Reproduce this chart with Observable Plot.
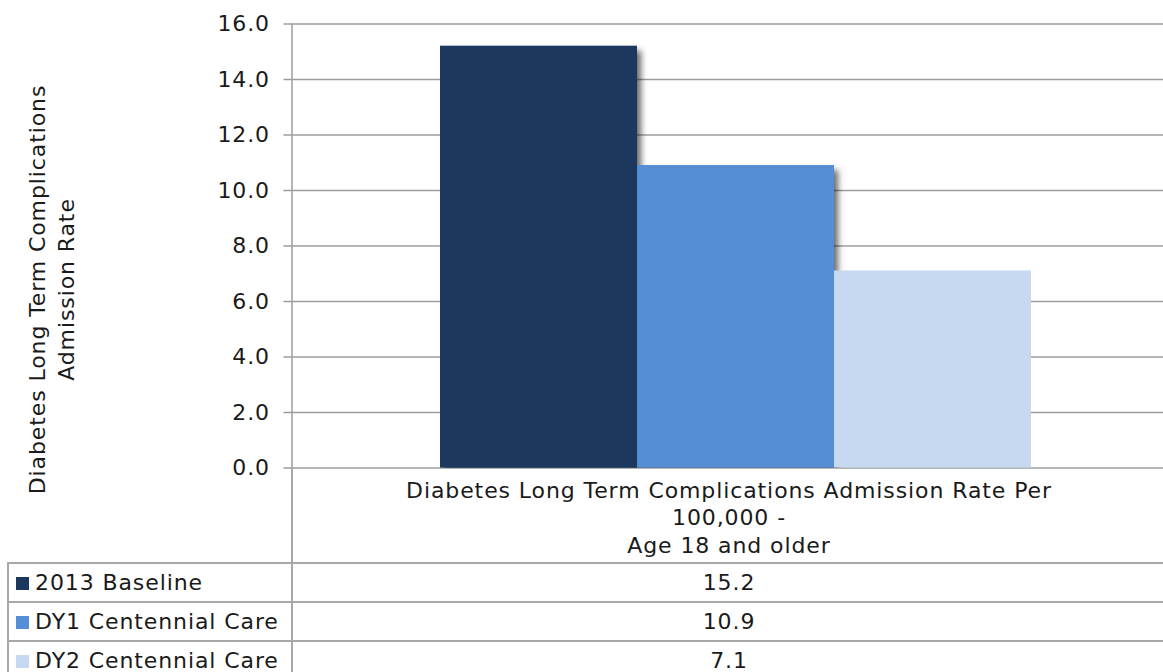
<!DOCTYPE html>
<html><head><meta charset="utf-8">
<script src="https://cdn.jsdelivr.net/npm/d3@7"></script>
<script src="https://cdn.jsdelivr.net/npm/@observablehq/plot@0.6"></script>
<style>
html,body{margin:0;padding:0;background:#fff;overflow:hidden;}
body{width:1163px;height:672px;position:relative;font-family:"DejaVu Sans",Verdana,sans-serif;color:#1a1a1a;}
#chart{position:absolute;left:0;top:0;}
#tbl{position:absolute;left:7px;top:466.5px;border-collapse:collapse;table-layout:fixed;width:1157px;font-size:22px;letter-spacing:0.9px;}
#tbl td{padding:0;border:2px solid #a8a8a8;}
#tbl tr.hdr td{border:none;}
#tbl tr.hdr td.cat{border-left:2px solid #a8a8a8;border-bottom:2px solid #a8a8a8;height:96px;vertical-align:top;text-align:center;padding-top:10px;line-height:27.5px;box-sizing:border-box;}
#tbl tr.hdr td.corner{border-bottom:2px solid #a8a8a8;}
#tbl td.lab{height:37px;white-space:nowrap;overflow:hidden;}
#tbl td.val{text-align:center;border-right:none;}
.sw{display:inline-block;width:13px;height:13px;margin:0 6px 0 7px;vertical-align:0px;}
</style></head>
<body><div id="chart"></div><table id="tbl"><colgroup><col style="width:284px"><col style="width:873px"></colgroup></table>
<script>
const series = ["2013 Baseline", "DY1 Centennial Care", "DY2 Centennial Care"];
const values = [15.2, 10.9, 7.1];
const colors = ["#1a385e", "#558ed5", "#c6d9f1"];
const categoryLines = ["Diabetes Long Term Complications Admission Rate Per", "100,000 -", "Age 18 and older"];
const yTicks = [0, 2, 4, 6, 8, 10, 12, 14, 16];
const yTitleLines = ["Diabetes Long Term Complications", "Admission Rate"];

const data = series.map((s, i) => ({series: s, value: values[i]}));
const gray = "#9c9c9c";

const chart = Plot.plot({
  width: 1163, height: 480,
  marginLeft: 291.5, marginRight: 0, marginTop: 23.5, marginBottom: 12.5,
  style: {fontFamily: "DejaVu Sans", fontSize: "22px", color: "#1a1a1a", background: "transparent", overflow: "visible", letterSpacing: "0.9px"},
  x: {domain: series, paddingInner: 0, paddingOuter: 0.706, align: 0.53, axis: null},
  y: {domain: [0, 16], axis: null},
  color: {domain: series, range: colors},
  marks: [
    Plot.gridY(yTicks, {stroke: gray, strokeOpacity: 1, strokeWidth: 1.5}),
    Plot.axisY(yTicks, {tickSize: 8, tickPadding: 14, tickFormat: d => d.toFixed(1), stroke: gray, strokeWidth: 1.5, fill: "#1a1a1a", label: null, fontSize: 22}),
    Plot.frame({anchor: "left", stroke: gray, strokeWidth: 1.5}),
    Plot.barY(data, {x: "series", y: "value", fill: "series", insetLeft: 0, insetRight: 0}),
    Plot.text([yTitleLines.join("\n")], {frameAnchor: "left", rotate: -90, dx: -241.5, dy: 43.5, lineHeight: 1.3, textAnchor: "middle", lineAnchor: "middle", fontSize: 22, fill: "#1a1a1a"})
  ]
});
document.getElementById("chart").appendChild(chart);

// drop shadow (Excel style) on the bars
const svg = d3.select(chart);
const defs = svg.insert("defs", ":first-child");
const f = defs.append("filter").attr("id", "shadow").attr("x", "0%").attr("y", "-10%").attr("width", "112%").attr("height", "110%");
f.append("feDropShadow").attr("dx", 4).attr("dy", 5).attr("stdDeviation", 3).attr("flood-color", "#000").attr("flood-opacity", 0.6);
svg.selectAll('g[aria-label="bar"] rect').attr("filter", (d, i) => i < 2 ? "url(#shadow)" : null);

// data table below the chart
const tbl = d3.select("#tbl");
const hdr = tbl.append("tr").attr("class", "hdr");
hdr.append("td").attr("class", "corner");
const cat = hdr.append("td").attr("class", "cat");
categoryLines.forEach(l => cat.append("div").text(l));
series.forEach((s, i) => {
  const tr = tbl.append("tr");
  const td = tr.append("td").attr("class", "lab");
  td.append("span").attr("class", "sw").style("background", colors[i]);
  td.append("span").text(s);
  tr.append("td").attr("class", "val").text(values[i].toFixed(1));
});
</script>
</body></html>
